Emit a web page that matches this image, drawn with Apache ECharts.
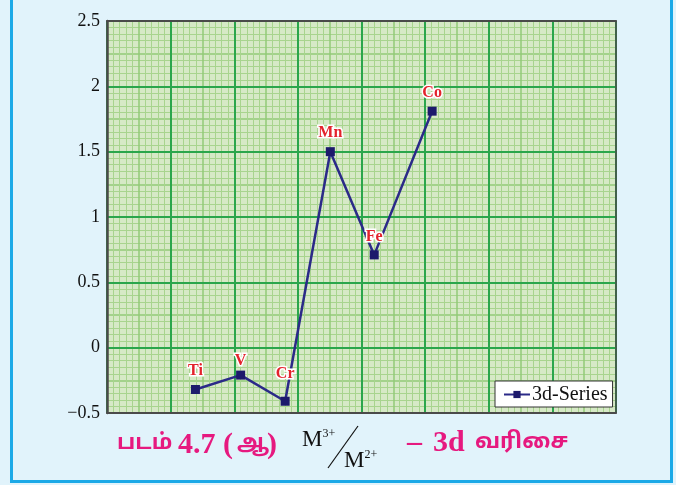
<!DOCTYPE html>
<html>
<head>
<meta charset="utf-8">
<script src="https://cdn.jsdelivr.net/npm/echarts@6/dist/echarts.min.js"></script>
<style>
  html, body { margin: 0; padding: 0; background: #e1f3fb; }
  #wrap { position: relative; width: 676px; height: 485px; overflow: hidden; background: #e1f3fb; }
  #frame { position: absolute; left: 10px; top: -10px; width: 657px; height: 487px; border: 3px solid #1ba9e7; box-sizing: content-box; }
  #chart { position: absolute; left: 0; top: 0; width: 676px; height: 485px; }
</style>
</head>
<body>
<div id="wrap">
  <div id="frame"></div>
  <div id="chart"></div>
</div>
<script>
// Elements of the 3d series and their M3+/M2+ potentials (V)
const elements   = ['Ti', 'V', 'Cr', 'Mn', 'Fe', 'Co'];
const xPositions = [1.39, 2.10, 2.80, 3.51, 4.20, 5.11];
const potentials = [-0.32, -0.21, -0.41, 1.50, 0.71, 1.81];
const yTicks     = [-0.5, 0, 0.5, 1, 1.5, 2, 2.5];
const xRange     = [0, 8];
const seriesName = '3d-Series';

// small vertical nudges for individual point labels (px)
const labelNudge = { V: 4, Cr: -9 };

const yMin = yTicks[0], yMax = yTicks[yTicks.length - 1];
const yStep = yTicks[1] - yTicks[0];

const serif = '"Liberation Serif", "Times New Roman", serif';
const tamil = '"Noto Sans Tamil", "Lohit Tamil", "Noto Sans", "DejaVu Sans", sans-serif';
const magenta = '#e6197f';

const paper = {
  major: '#2ba64c',
  medium: '#92ca77',
  minor: '#a8d48e',
  frame: '#4a4a4a'
};

const points = elements.map((name, i) => {
  const item = { name: name, value: [xPositions[i], potentials[i]] };
  if (labelNudge[name]) item.label = { offset: [0, labelNudge[name]] };
  return item;
});

const hidden = { show: false };
const frameLine = w => ({ show: true, onZero: false, lineStyle: { color: paper.frame, width: w } });

// caption pieces
const tamilText = (str, left, top) => ({
  type: 'text', left: left, top: top, z: 10,
  style: { text: str, fontFamily: tamil, fontWeight: 'bold', fontSize: 22, fill: magenta }
});
const serifText = (str, left, top) => ({
  type: 'text', left: left, top: top, z: 10,
  style: { text: str, fontFamily: serif, fontWeight: 'bold', fontSize: 30, fill: magenta }
});
const ionText = (charge, left, top) => ({
  type: 'text', left: left, top: top, z: 10,
  style: {
    text: '{m|M}{s|' + charge + '}',
    rich: {
      m: { fontFamily: serif, fontSize: 23, fill: '#111', verticalAlign: 'bottom' },
      s: { fontFamily: serif, fontSize: 12, fill: '#111', verticalAlign: 'top', padding: [0, 0, 9, 0] }
    }
  }
});

const chart = echarts.init(document.getElementById('chart'), null, { renderer: 'canvas' });
chart.setOption({
  animation: false,
  backgroundColor: 'transparent',
  grid: {
    left: 107, top: 21, right: 60, bottom: 72,
    show: true, backgroundColor: '#d6e9c6', borderWidth: 0
  },
  xAxis: [
    { // main scale with the heavy lines
      type: 'value', min: xRange[0], max: xRange[1], interval: 1, z: 2,
      axisLine: hidden, axisTick: hidden, axisLabel: hidden,
      splitLine: { show: true, lineStyle: { color: paper.major, width: 2 } }
    },
    { // fine ruling
      type: 'value', min: xRange[0], max: xRange[1], interval: 0.5, z: 1,
      axisLine: hidden, axisTick: hidden, axisLabel: hidden,
      splitLine: { show: true, lineStyle: { color: paper.medium, width: 1.5 } },
      minorTick: { show: false, splitNumber: 5 },
      minorSplitLine: { show: true, lineStyle: { color: paper.minor, width: 1 } }
    },
    { // bottom frame
      type: 'value', min: xRange[0], max: xRange[1], position: 'bottom', z: 3,
      axisLine: frameLine(2), axisTick: hidden, axisLabel: hidden, splitLine: hidden
    },
    { // top frame
      type: 'value', min: xRange[0], max: xRange[1], position: 'top', z: 3,
      axisLine: frameLine(2), axisTick: hidden, axisLabel: hidden, splitLine: hidden
    }
  ],
  yAxis: [
    {
      type: 'value', min: yMin, max: yMax, interval: yStep, z: 2,
      axisLine: hidden, axisTick: hidden,
      axisLabel: {
        show: true, margin: 7, color: '#111', fontFamily: serif, fontSize: 18,
        formatter: v => (v < 0 ? '\u2212' + String(-v) : String(v))
      },
      splitLine: { show: true, lineStyle: { color: paper.major, width: 2 } }
    },
    {
      type: 'value', min: yMin, max: yMax, interval: yStep / 2, z: 1,
      axisLine: hidden, axisTick: hidden, axisLabel: hidden,
      splitLine: { show: true, lineStyle: { color: paper.medium, width: 1.5 } },
      minorTick: { show: false, splitNumber: 5 },
      minorSplitLine: { show: true, lineStyle: { color: paper.minor, width: 1 } }
    },
    {
      type: 'value', min: yMin, max: yMax, position: 'left', z: 3,
      axisLine: frameLine(2.5), axisTick: hidden, axisLabel: hidden, splitLine: hidden
    },
    {
      type: 'value', min: yMin, max: yMax, position: 'right', z: 3,
      axisLine: frameLine(1.5), axisTick: hidden, axisLabel: hidden, splitLine: hidden
    }
  ],
  legend: {
    show: true,
    left: 495, top: 381,
    padding: [3, 5, 2, 8],
    backgroundColor: '#ffffff',
    borderColor: '#333333', borderWidth: 1,
    itemWidth: 26, itemHeight: 9, itemGap: 4,
    textStyle: { fontFamily: serif, fontSize: 20, color: '#111', lineHeight: 21, padding: [0, 0, 0, -3] },
    data: [seriesName]
  },
  series: [{
    name: seriesName,
    type: 'line',
    xAxisIndex: 0, yAxisIndex: 0,
    z: 5,
    data: points,
    symbol: 'rect', symbolSize: 9,
    itemStyle: { color: '#1d1a6c' },
    lineStyle: { color: '#2b2a88', width: 2.5 },
    label: {
      show: true, position: 'top', distance: 6,
      formatter: '{b}',
      color: '#e3232c', fontFamily: serif, fontWeight: 'bold', fontSize: 16,
      textBorderColor: '#ffffff', textBorderWidth: 3
    }
  }],
  graphic: [
    tamilText('படம்', 117, 434),
    serifText('4.7 (', 178, 430),
    tamilText('ஆ', 237, 434),
    serifText(')', 267, 430),
    ionText('3+', 302, 428),
    {
      type: 'line', z: 10,
      shape: { x1: 328, y1: 468, x2: 358, y2: 426 },
      style: { stroke: '#111', lineWidth: 1.2 }
    },
    ionText('2+', 344, 449),
    serifText('\u2013', 407, 428),
    serifText('3d', 433, 428),
    tamilText('வரிசை', 475, 433)
  ]
});
</script>
</body>
</html>
